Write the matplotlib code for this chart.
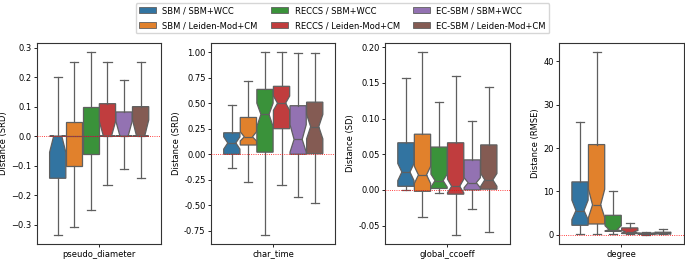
import matplotlib
matplotlib.use("Agg")
import matplotlib.pyplot as plt
from matplotlib.patches import Patch

plt.rcParams['font.family'] = ['DejaVu Sans']
plt.rcParams['font.size'] = 6

pairs = ["SBM / SBM+WCC", "SBM / Leiden-Mod+CM",
         "RECCS / SBM+WCC", "RECCS / Leiden-Mod+CM",
         "EC-SBM / SBM+WCC", "EC-SBM / Leiden-Mod+CM"]
colors = ["#3274a1", "#e1812c", "#3a923a", "#c03d3e", "#9372b2", "#845b53"]

metrics = ["pseudo_diameter", "char_time", "global_ccoeff", "degree"]
ylabels = ["Distance (SRD)", "Distance (SRD)", "Distance (SD)", "Distance (RMSE)"]

# box statistics, one value per pair (None = no notch)
pseudo_diameter = dict(
    lo=[-0.335, -0.308, -0.25, -0.167, -0.112, -0.143],
    q1=[-0.143, -0.10, -0.06, 0.0, 0.0, 0.0],
    med=[0.0, 0.0, 0.0, 0.0, 0.0, 0.0],
    q3=[0.0, 0.047, 0.10, 0.11, 0.082, 0.10],
    hi=[0.20, 0.25, 0.285, 0.25, 0.19, 0.25],
    cilo=[-0.055, None, None, 0.0, 0.0, 0.0],
    cihi=[0.0, None, None, 0.05, 0.05, 0.055],
)
char_time = dict(
    lo=[-0.14, -0.275, -0.79, -0.30, -0.42, -0.475],
    q1=[0.0, 0.09, 0.02, 0.25, 0.0, 0.005],
    med=[0.11, 0.17, 0.39, 0.50, 0.145, 0.27],
    q3=[0.21, 0.36, 0.635, 0.665, 0.475, 0.51],
    hi=[0.48, 0.72, 1.0, 1.0, 0.99, 0.99],
    cilo=[0.05, 0.13, 0.27, 0.43, 0.02, 0.15],
    cihi=[0.17, 0.22, 0.50, 0.57, 0.29, 0.39],
)
global_ccoeff = dict(
    lo=[0.0, -0.038, -0.004, -0.063, -0.027, -0.059],
    q1=[0.005, -0.002, 0.002, -0.006, 0.0, 0.001],
    med=[0.025, 0.021, 0.013, 0.005, 0.010, 0.014],
    q3=[0.066, 0.078, 0.060, 0.066, 0.042, 0.063],
    hi=[0.157, 0.193, 0.123, 0.160, 0.096, 0.144],
    cilo=[0.013, 0.009, 0.004, -0.004, 0.003, 0.005],
    cihi=[0.037, 0.033, 0.022, 0.015, 0.017, 0.023],
)
degree = dict(
    lo=[0.3, 0.3, 0.2, 0.15, 0.05, 0.1],
    q1=[2.2, 2.5, 0.8, 0.3, 0.1, 0.2],
    med=[5.6, 6.9, 1.2, 0.7, 0.25, 0.4],
    q3=[12.2, 20.8, 4.5, 1.6, 0.4, 0.6],
    hi=[26.0, 42.1, 10.2, 2.7, 0.7, 1.4],
    cilo=[3.5, 4.0, 0.9, 0.4, 0.15, 0.25],
    cihi=[8.0, 10.5, 2.1, 1.0, 0.35, 0.55],
)
panels = [pseudo_diameter, char_time, global_ccoeff, degree]

fig, axes = plt.subplots(1, 4, figsize=(6.85, 2.59), dpi=100)
fig.subplots_adjust(left=0.054, right=0.998, top=0.834, bottom=0.058, wspace=0.40)

n = len(pairs)
slot = 0.8 / n
bw = slot * 0.98
line = "#5f5f5f"
for ax, stats, metric, ylab in zip(axes, panels, metrics, ylabels):
    for i in range(n):
        s = dict(whislo=stats["lo"][i], q1=stats["q1"][i], med=stats["med"][i],
                 q3=stats["q3"][i], whishi=stats["hi"][i], fliers=[])
        notch = stats["cilo"][i] is not None
        if notch:
            s["cilo"] = stats["cilo"][i]
            s["cihi"] = stats["cihi"][i]
        pos = -0.4 + slot * (i + 0.5)
        ax.bxp([s], positions=[pos], widths=[bw], shownotches=notch,
               patch_artist=True, showfliers=False,
               boxprops=dict(facecolor=colors[i], edgecolor=line, linewidth=0.9),
               whiskerprops=dict(color=line, linewidth=0.9),
               capprops=dict(color=line, linewidth=0.9),
               medianprops=dict(color=line, linewidth=0.9))
    ax.axhline(0, color="red", ls=":", lw=0.6, zorder=5)
    ax.set_xlim(-0.5, 0.5)
    ax.set_xticks([0])
    ax.set_xticklabels([metric])
    ax.set_ylabel(ylab, labelpad=2)
    ax.tick_params(labelsize=6, length=2.5, width=0.6, pad=1.5)
    for sp in ax.spines.values():
        sp.set_linewidth(0.8)
        sp.set_color("#333333")

axes[0].set_yticks([-0.3, -0.2, -0.1, 0.0, 0.1, 0.2, 0.3])
axes[1].set_yticks([-0.75, -0.5, -0.25, 0.0, 0.25, 0.5, 0.75, 1.0])
axes[2].set_yticks([-0.05, 0.0, 0.05, 0.10, 0.15, 0.20])
axes[1].yaxis.set_major_formatter(matplotlib.ticker.FormatStrFormatter("%.2f"))
axes[2].yaxis.set_major_formatter(matplotlib.ticker.FormatStrFormatter("%.2f"))
axes[3].set_yticks([0, 10, 20, 30, 40])
for ax in axes:
    ax.autoscale(axis="y")
    ax.margins(y=0.05)

handles = [Patch(facecolor=c, edgecolor=line, linewidth=0.6, label=p)
           for c, p in zip(colors, pairs)]
fig.legend(handles=handles, loc="upper center", bbox_to_anchor=(0.5, 0.995),
           ncol=3, fontsize=6, frameon=True, handlelength=2.0,
           handletextpad=0.8, columnspacing=1.6, labelspacing=0.7,
           borderaxespad=0.2)

fig.savefig("out.png", dpi=100)
